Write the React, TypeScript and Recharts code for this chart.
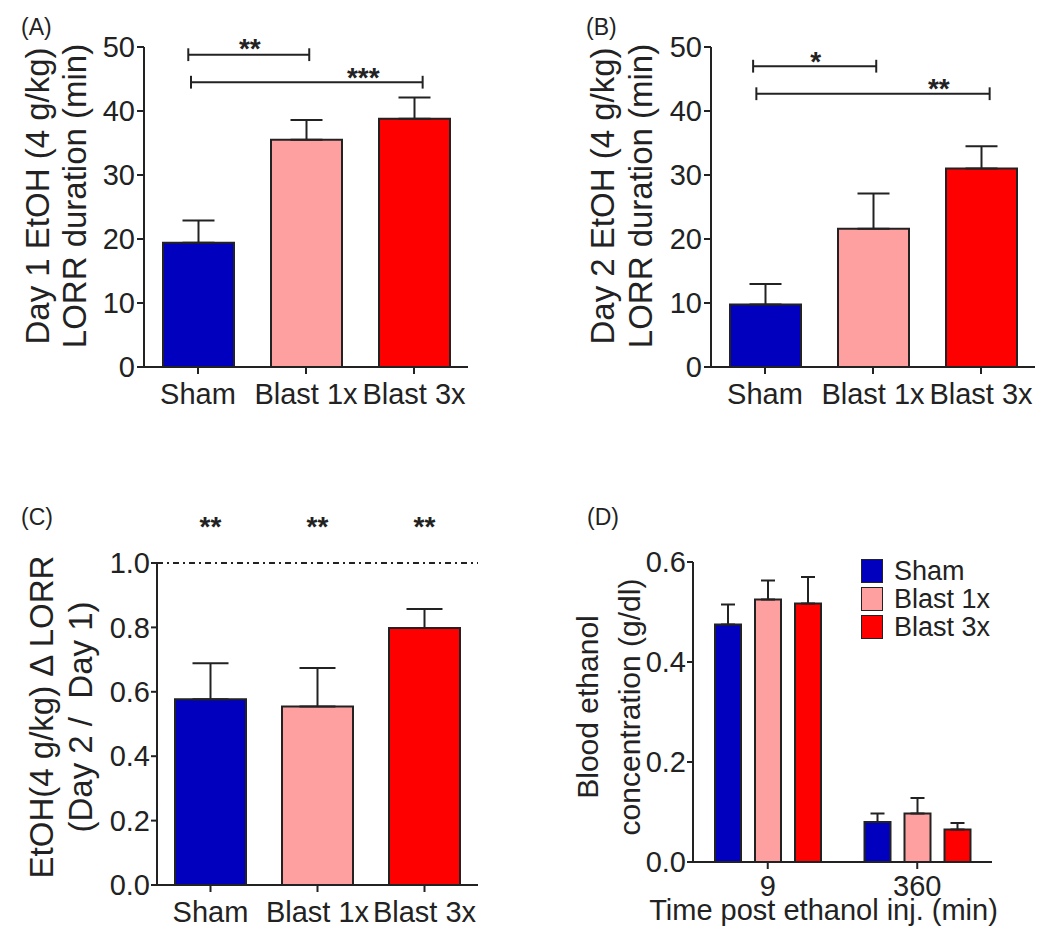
import React from 'react';
import { BarChart, Bar, XAxis, YAxis, ErrorBar, ReferenceLine, ReferenceDot, Legend, Cell } from 'recharts';

const FONT = '"Liberation Sans", Arial, Helvetica, sans-serif';
const INK = '#222222';

// ---------- data ----------
const groups = ['Sham', 'Blast 1x', 'Blast 3x'];
const groupColors = ['#0000BE', '#FFA0A0', '#FF0000'];

const day1Means = [19.4, 35.5, 38.8];
const day1Sem = [3.5, 3.1, 3.3];
const day2Means = [9.75, 21.6, 31.0];
const day2Sem = [3.2, 5.5, 3.5];
const lorrTicks = [0, 10, 20, 30, 40, 50];

const ratioMeans = [0.577, 0.554, 0.798];
const ratioSem = [0.112, 0.12, 0.059];
const ratioSig = ['**', '**', '**'];
const ratioTicks = [0, 0.2, 0.4, 0.6, 0.8, 1.0];

const timePoints = ['9', '360'];
const becSham = [0.475, 0.08];
const becShamSem = [0.04, 0.017];
const becBlast1 = [0.525, 0.097];
const becBlast1Sem = [0.038, 0.031];
const becBlast3 = [0.517, 0.065];
const becBlast3Sem = [0.053, 0.013];
const becTicks = [0, 0.2, 0.4, 0.6];
const becSeries = ['Sham', 'Blast 1x', 'Blast 3x'];

// significance brackets (x in category units 0..3, y in data units)
const day1Brackets = [
  { from: 0.41, to: 1.53, y: 48.8, labelX: 0.98, labelY: 50.8, label: '**' },
  { from: 0.435, to: 2.58, y: 44.5, labelX: 2.03, labelY: 46.2, label: '***' },
];
const day2Brackets = [
  { from: 0.39, to: 1.53, y: 47.0, labelX: 0.97, labelY: 48.8, label: '*' },
  { from: 0.42, to: 2.58, y: 42.7, labelX: 2.11, labelY: 44.6, label: '**' },
];

const day1Data = groups.map((g, i) => ({ group: g, pos: i + 0.5, value: day1Means[i], err: [0, day1Sem[i]] }));
const day2Data = groups.map((g, i) => ({ group: g, pos: i + 0.5, value: day2Means[i], err: [0, day2Sem[i]] }));
const ratioData = groups.map((g, i) => ({ group: g, value: ratioMeans[i], err: [0, ratioSem[i]] }));
const becData = timePoints.map((t, i) => ({
  time: t,
  sham: becSham[i], shamErr: [0, becShamSem[i]],
  blast1: becBlast1[i], blast1Err: [0, becBlast1Sem[i]],
  blast3: becBlast3[i], blast3Err: [0, becBlast3Sem[i]],
}));

// ---------- helpers ----------
const makeYLabel = (lines: string[], xs: number[], dy: number, fontSize: number) => (props: any) => {
  const vb = props.viewBox || { x: 0, y: 0, width: 0, height: 0 };
  const cy = vb.y + vb.height / 2 + dy;
  return (
    <g>
      {lines.map((t, i) => {
        const cx = vb.x + xs[i];
        return (
          <text key={i} x={cx} y={cy} transform={`rotate(-90 ${cx} ${cy})`} textAnchor="middle"
            dominantBaseline="central" fontSize={fontSize} fill={INK} fontFamily={FONT}
            style={{ whiteSpace: 'pre' }}>
            {t}
          </text>
        );
      })}
    </g>
  );
};

const axisLine = { stroke: INK, strokeWidth: 2 };
const tickLine = { stroke: INK, strokeWidth: 2 };
const tickStyle = { fontSize: 29, fill: INK, fontFamily: FONT };

const starShape = (label: string) => (p: any) => (
  <text x={p.cx} y={p.cy + 16} textAnchor="middle" fontSize={28} fontWeight="bold" fill={INK} fontFamily={FONT}>
    {label}
  </text>
);

const renderBrackets = (brackets: typeof day1Brackets, capHalf: number) =>
  brackets.flatMap((b, i) => [
    <ReferenceLine key={`h${i}`} xAxisId="n" segment={[{ x: b.from, y: b.y }, { x: b.to, y: b.y }]} stroke={INK} strokeWidth={2} ifOverflow="visible" />,
    <ReferenceLine key={`l${i}`} xAxisId="n" segment={[{ x: b.from, y: b.y - capHalf }, { x: b.from, y: b.y + capHalf }]} stroke={INK} strokeWidth={2} ifOverflow="visible" />,
    <ReferenceLine key={`r${i}`} xAxisId="n" segment={[{ x: b.to, y: b.y - capHalf }, { x: b.to, y: b.y + capHalf }]} stroke={INK} strokeWidth={2} ifOverflow="visible" />,
    <ReferenceDot key={`s${i}`} xAxisId="n" x={b.labelX} y={b.labelY} r={0} ifOverflow="visible" shape={starShape(b.label)} />,
  ]);

const PanelTag = ({ text, left, top }: { text: string; left: number; top: number }) => (
  <div style={{ position: 'absolute', left, top, fontSize: 23, lineHeight: '23px', color: INK, fontFamily: FONT }}>{text}</div>
);

const LorrChart = ({ data, brackets, yLabel, labelXs, yAxisWidth, marginRight }: any) => (
  <BarChart width={yAxisWidth + 324 + marginRight} height={440} data={data}
    margin={{ top: 47, right: marginRight, bottom: 33, left: 0 }} barSize={71}>
    <XAxis dataKey="group" interval={0} axisLine={axisLine} tickLine={tickLine} tick={tickStyle}
      tickSize={7} tickMargin={9} height={40} />
    <XAxis xAxisId="n" dataKey="pos" type="number" domain={[0, 3]} allowDataOverflow hide />
    <YAxis domain={[0, 50]} ticks={lorrTicks} interval={0} axisLine={axisLine} tickLine={tickLine}
      tick={tickStyle} tickSize={7} tickMargin={2} width={yAxisWidth}
      label={{ content: makeYLabel(yLabel, labelXs, -11, 33) } as any} />
    <Bar dataKey="value" stroke={INK} strokeWidth={2} isAnimationActive={false}>
      {data.map((d: any, i: number) => <Cell key={i} fill={groupColors[i]} />)}
      <ErrorBar dataKey="err" width={16} stroke={INK} strokeWidth={2} direction="y" />
    </Bar>
    {renderBrackets(brackets, 1)}
  </BarChart>
);

const LegendContent = (props: any) => {
  const payload = [...(props.payload || [])].sort(
    (a: any, b: any) => becSeries.indexOf(a.value) - becSeries.indexOf(b.value)
  );
  return (
    <div style={{ fontFamily: FONT }}>
      {payload.map((p: any, i: number) => (
        <div key={i} style={{ display: 'flex', alignItems: 'center', height: 28 }}>
          <div style={{ width: 20, height: 22, background: p.color, border: `1.5px solid ${INK}`, marginRight: 11 }} />
          <span style={{ fontSize: 27, color: INK, lineHeight: '28px' }}>{p.value}</span>
        </div>
      ))}
    </div>
  );
};

export default function App() {
  return (
    <div style={{ position: 'absolute', left: 0, top: 0, width: 1050, height: 940, background: '#fff', fontFamily: FONT, overflow: 'hidden' }}>
      {/* Panel A */}
      <div style={{ position: 'absolute', left: 0, top: 0 }}>
        <LorrChart data={day1Data} brackets={day1Brackets}
          yLabel={['Day 1 EtOH (4 g/kg)', 'LORR duration (min)']} labelXs={[37, 74]}
          yAxisWidth={144} marginRight={52} />
      </div>
      <PanelTag text="(A)" left={21} top={16} />

      {/* Panel B */}
      <div style={{ position: 'absolute', left: 520, top: 0 }}>
        <LorrChart data={day2Data} brackets={day2Brackets}
          yLabel={['Day 2 EtOH (4 g/kg)', 'LORR duration (min)']} labelXs={[82, 120]}
          yAxisWidth={191} marginRight={23} />
      </div>
      <PanelTag text="(B)" left={586} top={16} />

      {/* Panel C */}
      <div style={{ position: 'absolute', left: 0, top: 470 }}>
        <BarChart width={520} height={470} data={ratioData}
          margin={{ top: 93, right: 42, bottom: 15, left: 0 }} barSize={71}>
          <XAxis dataKey="group" interval={0} axisLine={axisLine} tickLine={tickLine} tick={tickStyle}
            tickSize={7} tickMargin={9} height={40} />
          <YAxis domain={[0, 1]} ticks={ratioTicks} interval={0} axisLine={axisLine} tickLine={tickLine}
            tick={tickStyle} tickSize={6} tickMargin={1} width={157}
            tickFormatter={(v: number) => v.toFixed(1)}
            label={{ content: makeYLabel(['EtOH(4 g/kg) \u0394 LORR', '(Day 2 /  Day 1)'], [41, 80], -7, 33) } as any} />
          <ReferenceLine y={1} stroke={INK} strokeWidth={2} strokeDasharray="6 4 2 4" />
          <Bar dataKey="value" stroke={INK} strokeWidth={2} isAnimationActive={false}>
            {ratioData.map((d, i) => <Cell key={i} fill={groupColors[i]} />)}
            <ErrorBar dataKey="err" width={18} stroke={INK} strokeWidth={2} direction="y" />
          </Bar>
          {groups.map((g, i) => (
            <ReferenceDot key={g} x={g} y={1.135} r={0} ifOverflow="visible" shape={starShape(ratioSig[i])} />
          ))}
        </BarChart>
      </div>
      <PanelTag text="(C)" left={21} top={506} />

      {/* Panel D */}
      <div style={{ position: 'absolute', left: 520, top: 470 }}>
        <BarChart width={530} height={470} data={becData}
          margin={{ top: 92, right: 58, bottom: 38, left: 0 }} barSize={26} barGap={14}>
          <XAxis dataKey="time" interval={0} axisLine={axisLine} tickLine={tickLine} tick={tickStyle}
            tickSize={7} tickMargin={6} height={40}
            label={{
              content: (p: any) => {
                const vb = p.viewBox || { x: 0, y: 0, width: 0, height: 0 };
                return (
                  <text x={vb.x + vb.width / 2 - 19} y={vb.y + 58} textAnchor="middle" fontSize={29} fill={INK} fontFamily={FONT}>
                    Time post ethanol inj. (min)
                  </text>
                );
              },
            } as any} />
          <YAxis domain={[0, 0.6]} ticks={becTicks} interval={0} axisLine={axisLine} tickLine={tickLine}
            tick={tickStyle} tickSize={6} tickMargin={1} width={173}
            tickFormatter={(v: number) => v.toFixed(1)}
            label={{ content: makeYLabel(['Blood ethanol', 'concentration (g/dl)'], [67, 109], -5, 30) } as any} />
          <Legend layout="vertical" align="center" verticalAlign="middle" content={LegendContent as any}
            wrapperStyle={{ position: 'absolute', left: 341, top: 87, width: 'auto', height: 'auto' }} />
          <Bar dataKey="sham" name={becSeries[0]} fill={groupColors[0]} stroke={INK} strokeWidth={2} isAnimationActive={false}>
            <ErrorBar dataKey="shamErr" width={7} stroke={INK} strokeWidth={2} direction="y" />
          </Bar>
          <Bar dataKey="blast1" name={becSeries[1]} fill={groupColors[1]} stroke={INK} strokeWidth={2} isAnimationActive={false}>
            <ErrorBar dataKey="blast1Err" width={7} stroke={INK} strokeWidth={2} direction="y" />
          </Bar>
          <Bar dataKey="blast3" name={becSeries[2]} fill={groupColors[2]} stroke={INK} strokeWidth={2} isAnimationActive={false}>
            <ErrorBar dataKey="blast3Err" width={7} stroke={INK} strokeWidth={2} direction="y" />
          </Bar>
        </BarChart>
      </div>
      <PanelTag text="(D)" left={587} top={506} />
    </div>
  );
}
